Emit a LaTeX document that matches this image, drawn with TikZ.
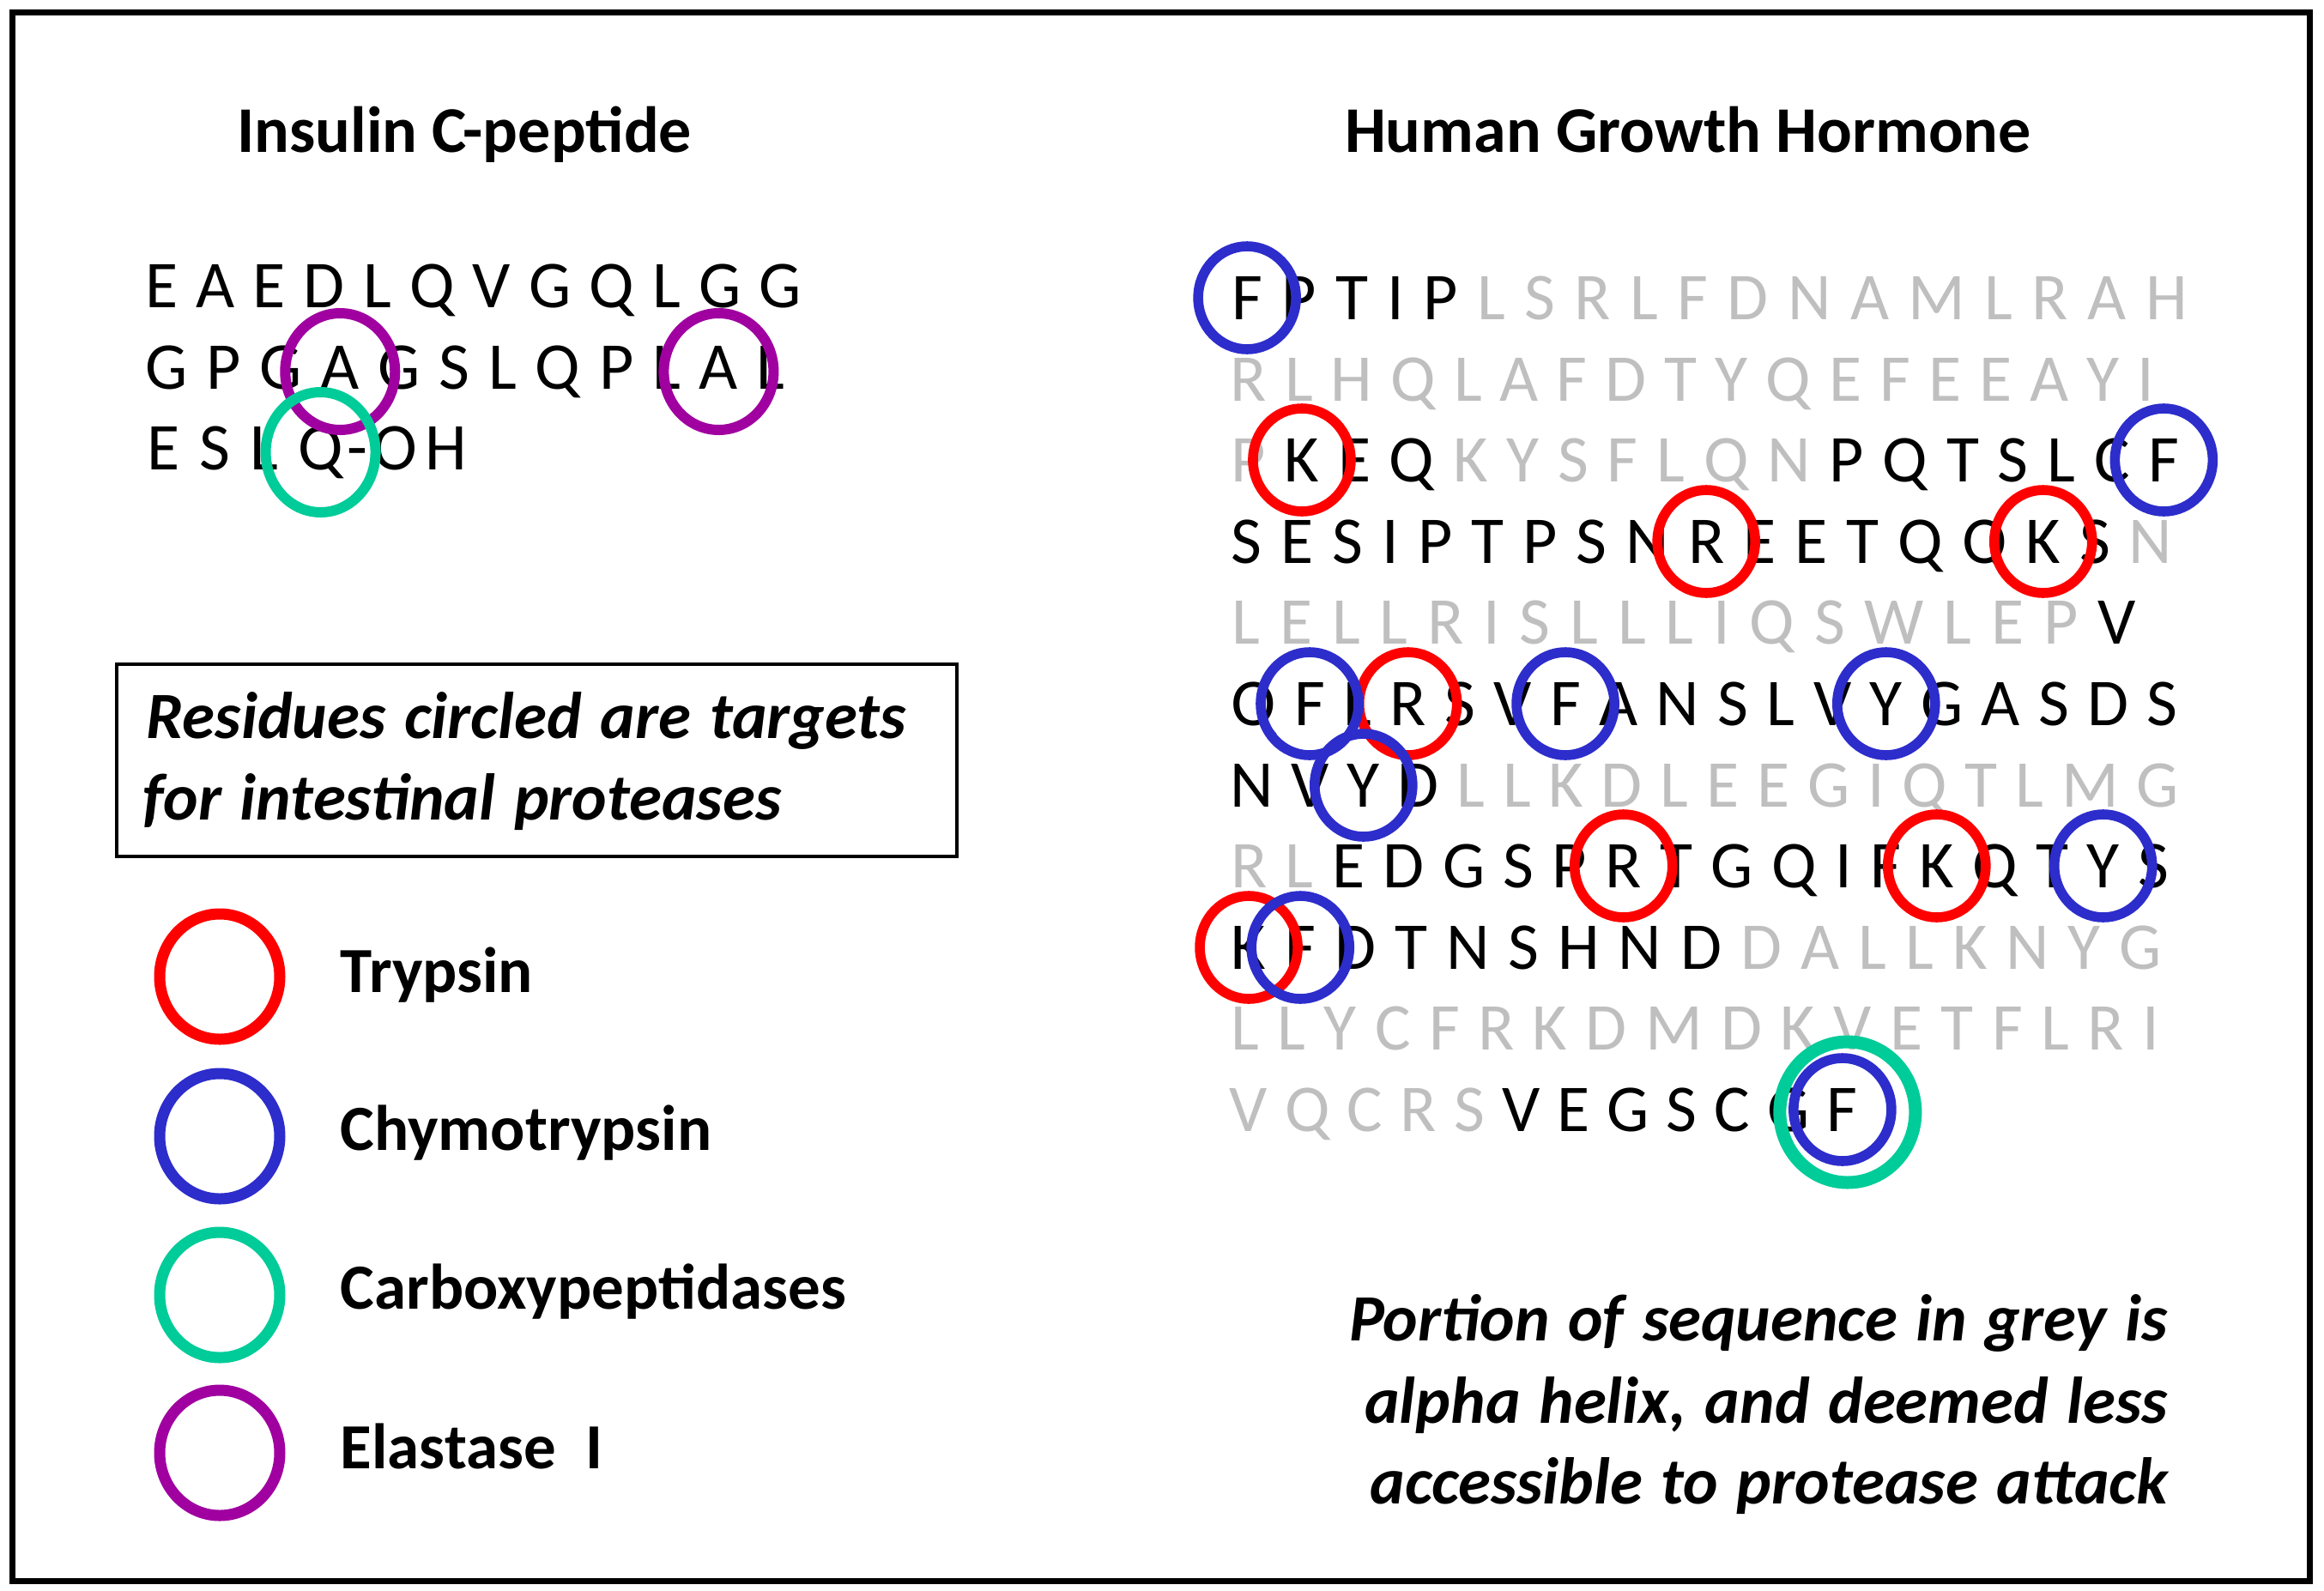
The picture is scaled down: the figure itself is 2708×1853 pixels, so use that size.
\documentclass[tikz,border=0pt]{standalone}
\usepackage{fontspec}
\setmainfont{Carlito}
\newfontfamily\seqfamily{Carlito}
\newfontfamily\notefamily[WordSpace=1.25]{Carlito}
\usetikzlibrary{calc}
\definecolor{seqgrey}{RGB}{191,191,191}
\definecolor{tryp}{RGB}{255,0,0}
\definecolor{chymo}{RGB}{45,45,204}
\definecolor{carboxy}{RGB}{0,204,153}
\definecolor{elast}{RGB}{160,0,160}

\newcount\seqcnt
\newcommand\seqrow[4][5.2pt]{%
  \def\seqtrack{#1}%
  \global\seqcnt=0
  \node[inner sep=0pt, anchor=base west] (#2-0) at (#3) {};
  \def\seqname{#2}%
  \seqloop#4\relax}
\def\seqloop#1{\ifx#1\relax\else\seqput{#1}\expandafter\seqloop\fi}
\def\seqput#1{%
  \edef\seqprev{\the\seqcnt}%
  \global\advance\seqcnt by 1
  \ifnum`#1>96 \def\seqcol{seqgrey}\else\def\seqcol{black}\fi
  \node[seqletter, text=\seqcol, anchor=base west] (\seqname-\the\seqcnt)
     at ([xshift=\seqtrack]\seqname-\seqprev.base east) {\uppercase{#1}};}

\tikzset{
  seqletter/.style={inner sep=0pt, font=\seqfamily\fontsize{19.5pt}{24pt}\selectfont},
  hdr/.style={inner sep=0pt, font=\fontsize{19pt}{23pt}\selectfont\bfseries},
  legtext/.style={inner sep=0pt, font=\fontsize{18.75pt}{23pt}\selectfont\bfseries},
  notetext/.style={inner sep=0pt, font=\notefamily\fontsize{19.25pt}{23pt}\selectfont\bfseries\itshape},
  hring/.style={line width=2.9pt},
  iring/.style={line width=3pt},
  lring/.style={line width=3.25pt},
}

\begin{document}
\begin{tikzpicture}[x=0.25pt, y=-0.25pt]
\useasboundingbox (0,0) rectangle (2708,1853);
\draw[line width=1.75pt] (14,14) rectangle (2691,1842);

% headers
\node[hdr, anchor=base] (t1) at (541,177) {Insulin C-peptide};
\node[hdr, anchor=base] (t2) at (1967,177) {Human Growth Hormone};

% insulin C-peptide
\seqrow[4.9pt]{i1}{143,358}{EAEDLQVGQLGG}
\seqrow[5.05pt]{i2}{143,453}{GPGAGSLQPLAL}
\seqrow[5.4pt]{i3}{143,547}{ESLQ}
\node[seqletter, anchor=base west] (i3-oh) at ([xshift=0.7pt]i3-4.base east) {-\kern1.5pt O\kern2.5pt H};

% human growth hormone
\seqrow[5.2pt]{h1}{1408,372}{FPTIPlsrlfdnamlrah}
\seqrow[4.85pt]{h2}{1408,467}{rlhqlafdtyqefeeayi}
\seqrow[5.05pt]{h3}{1408,561}{pKEQkysflqnPQTSLCF}
\seqrow[5.1pt]{h4}{1408,656}{SESIPTPSNREETQQKSn}
\seqrow[5.3pt]{h5}{1408,750}{lellrisllliqswlepV}
\seqrow[4.95pt]{h6}{1408,845}{QFLRSVFANSLVYGASDS}
\seqrow[4.8pt]{h7}{1408,940}{NVYDllkdleegiqtlmg}
\seqrow[4.95pt]{h8}{1408,1034}{rlEDGSPRTGQIFKQTYS}
\seqrow[5.1pt]{h9}{1408,1129}{KFDTNSHNDdallknyg}
\seqrow[4.95pt]{h10}{1408,1223}{llycfrkdmdkvetflri}
\seqrow[4.63pt]{h11}{1408,1318}{vqcrsVEGSCGF}

% insulin rings
\foreach \n in {i2-4,i2-11}
  \draw[iring, elast] ($(\n.base)+(0,-20)$) ellipse [x radius=16pt, y radius=17pt];
\draw[iring, carboxy] ($(i3-4.base)+(0,-20)$) ellipse [x radius=16pt, y radius=17.5pt];

% hGH rings
\foreach \n in {h3-2,h4-10,h4-16,h6-4,h8-8,h8-14,h9-1}
  \draw[hring, tryp] ($(\n.base)+(0,-25)$) ellipse [x radius=14.25pt, y radius=15pt];
\foreach \n in {h1-1,h3-18,h6-2,h6-7,h6-13,h7-3,h8-17,h9-2,h11-12}
  \draw[hring, chymo] ($(\n.base)+(0,-25)$) ellipse [x radius=14.25pt, y radius=15pt];
\draw[line width=3.75pt, carboxy] ($(h11-12.base)+(6,-22)$) ellipse [x radius=19.75pt, y radius=20.5pt];

% note box
\draw[line width=1pt] (136,774) rectangle (1115,998);
\node[notetext, anchor=base west] (b1) at (170,860) {Residues circled are targets};
\node[notetext, anchor=base west] (b2) at (166,955) {for intestinal proteases};

% legend
\draw[lring, tryp] (256,1138) ellipse [x radius=17.5pt, y radius=18.25pt];
\draw[lring, chymo] (256,1324) ellipse [x radius=17.5pt, y radius=18.25pt];
\draw[lring, carboxy] (256,1509) ellipse [x radius=17.5pt, y radius=18.25pt];
\draw[lring, elast] (256,1693) ellipse [x radius=17.5pt, y radius=18.25pt];
\node[legtext, anchor=base west] (l1) at (396,1156) {Trypsin};
\node[legtext, anchor=base west] (l2) at (396,1340) {Chymotrypsin};
\node[legtext, anchor=base west] (l3) at (396,1525) {Carboxypeptidases};
\node[legtext, anchor=base west] (l4) at (396,1711) {Elastase\hspace{4.3pt} I};

% bottom note
\node[notetext, anchor=base east] (n1) at (2527,1562) {Portion of sequence in grey is};
\node[notetext, anchor=base east] (n2) at (2527,1658) {alpha helix, and deemed less};
\node[notetext, anchor=base east] (n3) at (2527,1752) {accessible to protease attack};
\end{tikzpicture}
\end{document}
